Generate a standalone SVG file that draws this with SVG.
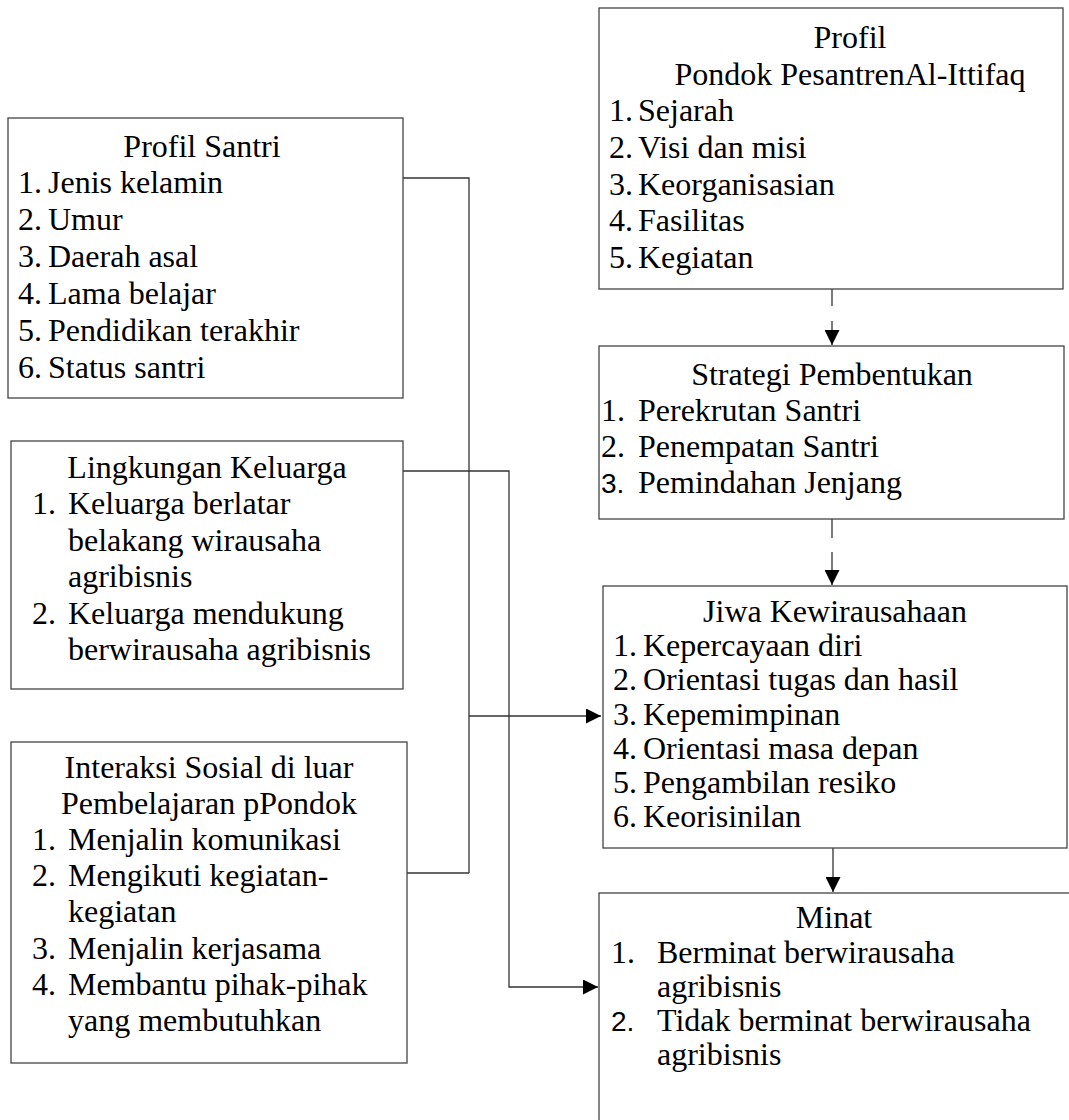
<svg xmlns="http://www.w3.org/2000/svg" width="1069" height="1120" viewBox="0 0 1069 1120">
<style>
.box{fill:#fff;stroke:#444;stroke-width:1.3}
.t{font-family:"Liberation Serif","Times New Roman",serif;font-size:32px;fill:#000}
.c{text-anchor:middle}
.s{font-family:"Liberation Sans",Arial,sans-serif;font-size:28px;fill:#000}
.ln{fill:none;stroke:#333;stroke-width:1.3}
</style>
<defs>
<marker id="ah" viewBox="0 0 10 10" refX="10" refY="5" markerUnits="userSpaceOnUse" markerWidth="16" markerHeight="15" orient="auto">
<path d="M0,0 L10,5 L0,10 z" fill="#000"/>
</marker>
</defs>
<rect width="1069" height="1120" fill="#fff"/>

<g id="connectors">
<polyline class="ln" points="403,178 469,178 469,873"/>
<polyline class="ln" points="407,873 469,873"/>
<line class="ln" x1="469" y1="716" x2="601" y2="716" marker-end="url(#ah)"/>
<polyline class="ln" points="403,471 509,471 509,987 598,987" marker-end="url(#ah)"/>
<line class="ln" x1="832" y1="289" x2="832" y2="306"/>
<line class="ln" x1="832" y1="321" x2="832" y2="345" marker-end="url(#ah)"/>
<line class="ln" x1="832" y1="519" x2="832" y2="538"/>
<line class="ln" x1="832" y1="552" x2="832" y2="585" marker-end="url(#ah)"/>
<line class="ln" x1="833" y1="848" x2="833" y2="892" marker-end="url(#ah)"/>
</g>

<g id="profil-santri">
<rect class="box" x="8" y="118" width="395" height="280"/>
<text class="t c" x="202" y="157">Profil Santri</text>
<text class="t" x="18" y="193">1.</text><text class="t" x="48" y="193">Jenis kelamin</text>
<text class="t" x="18" y="230">2.</text><text class="t" x="48" y="230">Umur</text>
<text class="t" x="18" y="267">3.</text><text class="t" x="48" y="267">Daerah asal</text>
<text class="t" x="18" y="304">4.</text><text class="t" x="48" y="304">Lama belajar</text>
<text class="t" x="18" y="341">5.</text><text class="t" x="48" y="341">Pendidikan terakhir</text>
<text class="t" x="18" y="378">6.</text><text class="t" x="48" y="378">Status santri</text>
</g>

<g id="lingkungan-keluarga">
<rect class="box" x="11" y="441" width="392" height="248"/>
<text class="t c" x="207" y="478">Lingkungan Keluarga</text>
<text class="t" x="32" y="514">1.</text><text class="t" x="68" y="514">Keluarga berlatar</text>
<text class="t" x="68" y="551">belakang wirausaha</text>
<text class="t" x="68" y="587">agribisnis</text>
<text class="t" x="32" y="624">2.</text><text class="t" x="68" y="624">Keluarga mendukung</text>
<text class="t" x="68" y="660">berwirausaha agribisnis</text>
</g>

<g id="interaksi-sosial">
<rect class="box" x="11" y="742" width="396" height="321"/>
<text class="t c" x="209" y="778">Interaksi Sosial di luar</text>
<text class="t c" x="209" y="814">Pembelajaran pPondok</text>
<text class="t" x="32" y="850">1.</text><text class="t" x="68" y="850">Menjalin komunikasi</text>
<text class="t" x="32" y="886">2.</text><text class="t" x="68" y="886">Mengikuti kegiatan-</text>
<text class="t" x="68" y="922">kegiatan</text>
<text class="t" x="32" y="959">3.</text><text class="t" x="68" y="959">Menjalin kerjasama</text>
<text class="t" x="32" y="995">4.</text><text class="t" x="68" y="995">Membantu pihak-pihak</text>
<text class="t" x="68" y="1031">yang membutuhkan</text>
</g>

<g id="profil-pondok">
<rect class="box" x="599" y="8" width="464" height="281"/>
<text class="t c" x="850" y="48">Profil</text>
<text class="t c" x="850" y="85">Pondok PesantrenAl-Ittifaq</text>
<text class="t" x="609" y="121">1.</text><text class="t" x="638" y="121">Sejarah</text>
<text class="t" x="609" y="158">2.</text><text class="t" x="638" y="158">Visi dan misi</text>
<text class="t" x="609" y="195">3.</text><text class="t" x="638" y="195">Keorganisasian</text>
<text class="t" x="609" y="231">4.</text><text class="t" x="638" y="231">Fasilitas</text>
<text class="t" x="609" y="268">5.</text><text class="t" x="638" y="268">Kegiatan</text>
</g>

<g id="strategi-pembentukan">
<rect class="box" x="599" y="346" width="465" height="173"/>
<text class="t c" x="832" y="385">Strategi Pembentukan</text>
<text class="t" x="601" y="421">1.</text><text class="t" x="638" y="421">Perekrutan Santri</text>
<text class="t" x="601" y="457">2.</text><text class="t" x="638" y="457">Penempatan Santri</text>
<text class="s" x="601" y="493">3.</text><text class="t" x="638" y="493">Pemindahan Jenjang</text>
</g>

<g id="jiwa-kewirausahaan">
<rect class="box" x="603" y="586" width="464" height="262"/>
<text class="t c" x="835" y="622">Jiwa Kewirausahaan</text>
<text class="t" x="613" y="656">1.</text><text class="t" x="643" y="656">Kepercayaan diri</text>
<text class="t" x="613" y="690">2.</text><text class="t" x="643" y="690">Orientasi tugas dan hasil</text>
<text class="t" x="613" y="725">3.</text><text class="t" x="643" y="725">Kepemimpinan</text>
<text class="t" x="613" y="759">4.</text><text class="t" x="643" y="759">Orientasi masa depan</text>
<text class="t" x="613" y="793">5.</text><text class="t" x="643" y="793">Pengambilan resiko</text>
<text class="t" x="613" y="827">6.</text><text class="t" x="643" y="827">Keorisinilan</text>
</g>

<g id="minat">
<rect class="box" x="599" y="893" width="480" height="240"/>
<text class="t c" x="834" y="928">Minat</text>
<text class="t" x="611" y="963">1.</text><text class="t" x="657" y="963">Berminat berwirausaha</text>
<text class="t" x="657" y="997">agribisnis</text>
<text class="s" x="611" y="1031">2.</text><text class="t" x="657" y="1031">Tidak berminat berwirausaha</text>
<text class="t" x="657" y="1065">agribisnis</text>
</g>
</svg>
